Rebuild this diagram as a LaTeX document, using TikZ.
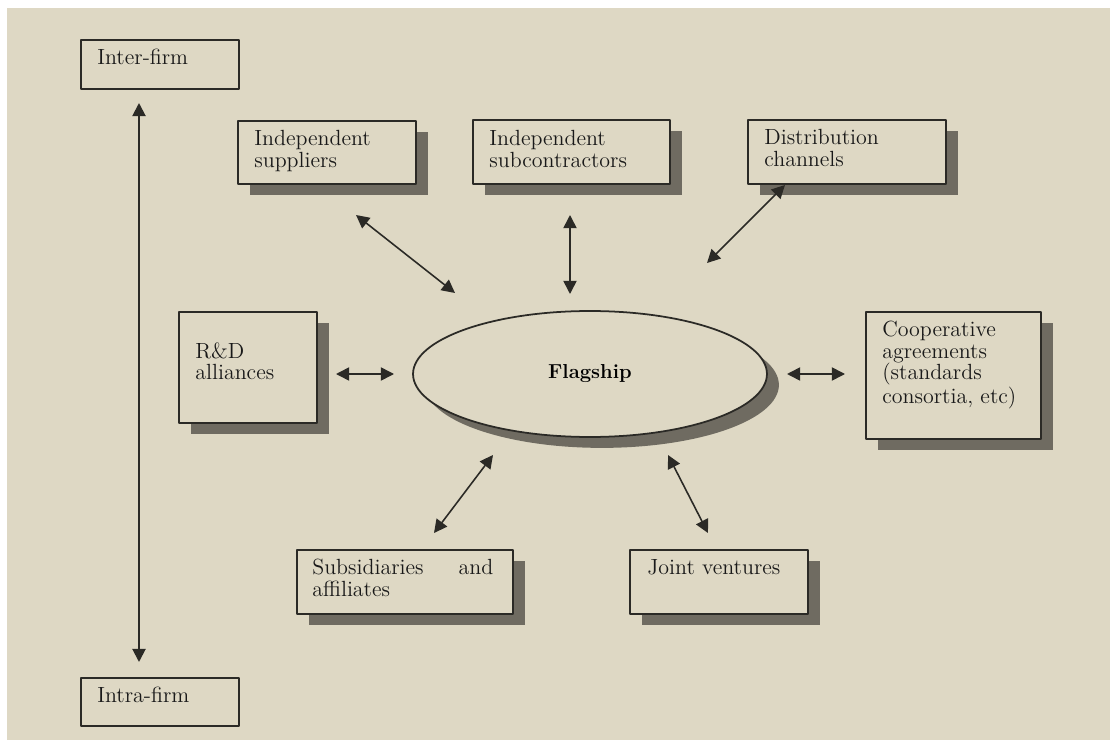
\documentclass[tikz,border=0pt]{standalone}
\usetikzlibrary{arrows.meta,shapes.geometric,shadows}
\definecolor{paper}{HTML}{DED8C4}
\definecolor{shade}{HTML}{6F6B61}
\definecolor{ink}{HTML}{2B2A26}
\begin{document}
\begin{tikzpicture}[x=0.02cm, y=-0.02cm, font=\fontsize{12.5}{12.2}\selectfont, line join=round,
		>={Triangle[length=7.5pt,width=7.5pt]},
		firm/.style={draw=ink, line width=1pt, fill=paper, anchor=north west, inner sep=0pt},
		boxed/.style={firm, drop shadow={shadow xshift=6.8pt, shadow yshift=-6.2pt, fill=shade, opacity=1}},
		lbl/.style={anchor=north west, align=left, inner sep=0pt, text=black!90},
		link/.style={<->, draw=ink, line width=0.9pt}]
	\useasboundingbox (0,0) rectangle (1110,740);
	\fill[white] (0,0) rectangle (1110,740);
	\fill[paper] (7,8) rectangle (1110,740);
	
	% scale on the left
	\node[firm, minimum width=3.16cm, minimum height=0.98cm] (inter) at (80,39) {};
	\node[lbl] (inter-t) at ([shift={(17,10)}]inter.north west) {Inter-firm};
	\node[firm, minimum width=3.16cm, minimum height=0.96cm] (intra) at (80,677) {};
	\node[lbl] (intra-t) at ([shift={(17,10)}]intra.north west) {Intra-firm};
	\coordinate (inter-end) at (139,103);
	\coordinate (intra-end) at (139,662);
	\draw[link, line width=1.1pt] (inter-end) -- (intra-end);
	
	% flagship
	\node[ellipse, draw=ink, line width=1pt, fill=paper, minimum width=7.08cm, minimum height=2.52cm,
		drop shadow={shadow xshift=6.8pt, shadow yshift=-6.2pt, fill=shade, opacity=1},
		font=\fontsize{11.5}{12}\bfseries] (flag) at (590,374) {\raisebox{2pt}{Flagship}};
	
	\node[boxed, minimum width=3.56cm, minimum height=1.26cm] (sup) at (237,120) {};
	\node[lbl] (sup-t) at ([shift={(17,10)}]sup.north west) {Independent\\suppliers};
	\node[boxed, minimum width=3.94cm, minimum height=1.28cm] (sub) at (472,119) {};
	\node[lbl] (sub-t) at ([shift={(17,11)}]sub.north west) {Independent\\subcontractors};
	\node[boxed, minimum width=3.96cm, minimum height=1.28cm] (dist) at (747,119) {};
	\node[lbl] (dist-t) at ([shift={(17,10)}]dist.north west) {Distribution\\channels};
	\node[boxed, minimum width=2.76cm, minimum height=2.22cm] (rnd) at (178,311) {};
	\node[lbl] (rnd-t) at ([shift={(17,31)}]rnd.north west) {R\&D\\alliances};
	\node[boxed, minimum width=3.50cm, minimum height=2.54cm] (coop) at (865,311) {};
	\node[lbl] (coop-t) at ([shift={(17,10)}]coop.north west) {Cooperative\\agreements\\(standards\\consortia, etc)};
	\node[boxed, minimum width=4.32cm, minimum height=1.28cm] (subs) at (296,549) {};
	\node[lbl, text width=3.62cm, align=justify] (subs-t) at ([shift={(16,10)}]subs.north west) {Subsidiaries and\linebreak affiliates};
	\node[boxed, minimum width=3.56cm, minimum height=1.28cm] (jv) at (629,549) {};
	\node[lbl] (jv-t) at ([shift={(18,10)}]jv.north west) {Joint ventures};
	
	% arrows round the flagship
	\coordinate (sup-a) at (356,215);  \coordinate (flag-sup) at (455,293);
	\coordinate (sub-a) at (570,215);  \coordinate (flag-sub) at (570,294);
	\coordinate (dist-a) at (785,185); \coordinate (flag-dist) at (707,263);
	\coordinate (rnd-a) at (336,374);  \coordinate (flag-rnd) at (394,374);
	\coordinate (coop-a) at (845,374); \coordinate (flag-coop) at (787,374);
	\coordinate (subs-a) at (434,533); \coordinate (flag-subs) at (493,455);
	\coordinate (jv-a) at (708,533);   \coordinate (flag-jv) at (668,455);
	\foreach \b in {sup,sub,dist,rnd,coop,subs,jv}
		\draw[link] (\b-a) -- (flag-\b);
\end{tikzpicture}
\end{document}
